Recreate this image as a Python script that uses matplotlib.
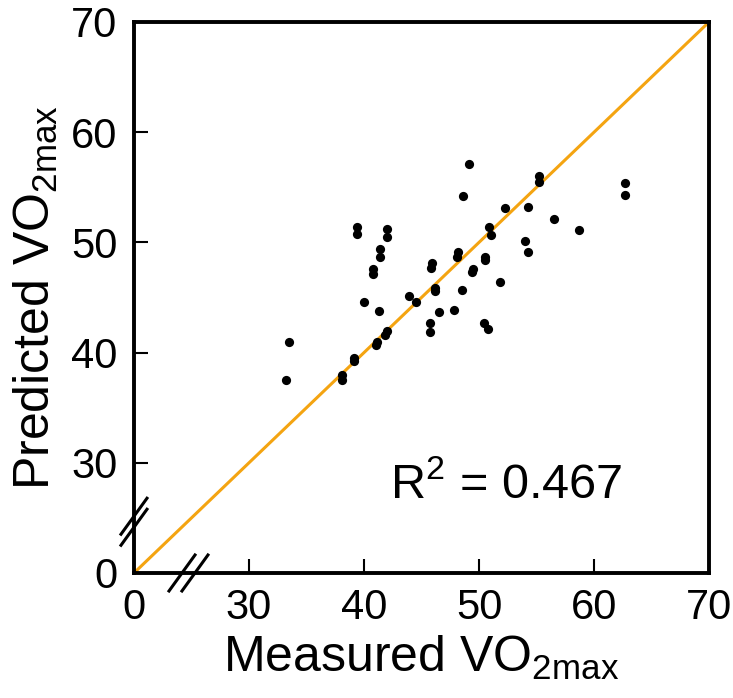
import matplotlib
matplotlib.use("Agg")
import matplotlib.pyplot as plt

plt.rcParams['font.family'] = ['Liberation Sans', 'DejaVu Sans']
plt.rcParams['mathtext.fontset'] = 'custom'
plt.rcParams['mathtext.rm'] = 'Liberation Sans'
plt.rcParams['mathtext.it'] = 'Liberation Sans'
plt.rcParams['mathtext.default'] = 'regular'

# measured vs predicted VO2max
measured = [33.2, 33.5, 38.1, 38.1, 39.1, 39.1, 39.4, 39.4, 40.0, 40.8,
            40.8, 41.0, 41.1, 41.3, 41.4, 41.4, 41.8, 42.0, 42.0, 42.0,
            43.9, 44.5, 45.7, 45.7, 45.8, 45.9, 46.2, 46.2, 46.5, 47.8,
            48.1, 48.2, 48.5, 48.6, 49.1, 49.4, 49.5, 50.5, 50.5, 50.4,
            50.8, 50.9, 51.0, 51.8, 52.3, 54.0, 54.3, 54.3, 55.2, 55.2,
            56.5, 58.7, 62.7, 62.7]
predicted = [37.5, 41.0, 37.5, 38.0, 39.2, 39.5, 50.8, 51.4, 44.6, 47.1,
             47.6, 40.7, 41.0, 43.8, 48.7, 49.4, 41.6, 42.0, 50.5, 51.2,
             45.1, 44.6, 41.9, 42.7, 47.7, 48.1, 45.6, 45.9, 43.7, 43.9,
             48.7, 49.1, 45.7, 54.2, 57.1, 47.3, 47.6, 48.4, 48.7, 42.7,
             42.1, 51.4, 50.7, 46.4, 53.1, 50.1, 49.1, 53.2, 56.0, 55.5,
             52.1, 51.1, 55.4, 54.3]

ticks = [20, 30, 40, 50, 60, 70]
tick_labels = ['0', '30', '40', '50', '60', '70']
r2_text = r'R$^2$ = 0.467'

fig = plt.figure(figsize=(7.33, 6.98), dpi=100)
ax = fig.add_axes([0.1828, 0.1791, 0.7845, 0.7894])

ax.plot([20, 70], [20, 70], color='#F4A411', lw=2.2, zorder=2)
ax.scatter(measured, predicted, s=44, color='black', linewidths=0, zorder=3)

ax.set_xlim(20, 70)
ax.set_ylim(20, 70)
ax.set_xticks(ticks)
ax.set_xticklabels(tick_labels)
ax.set_yticks(ticks)
ax.set_yticklabels(tick_labels)
ax.tick_params(direction='in', length=10, width=1.5, labelsize=30)
ax.tick_params(axis='x', pad=11)
ax.tick_params(axis='y', pad=12)
for s in ax.spines.values():
    s.set_linewidth(2.8)

ax.set_xlabel(r'Measured VO$_{2max}$', fontsize=36, labelpad=4)
ax.set_ylabel(r'Predicted VO$_{2max}$', fontsize=36, labelpad=8)

ax.text(42.3, 28.0, r2_text, fontsize=35, va='center', ha='left')

# axis break marks
dx, dy = 13 / 575, 18 / 551
for cx in [0.0835, 0.106]:
    ax.plot([cx - dx, cx + dx], [-dy, dy], color='black', lw=2.2,
            transform=ax.transAxes, clip_on=False, zorder=5)
for cy in [0.083, 0.103]:
    ax.plot([-dx, dx], [cy - dy, cy + dy], color='black', lw=2.2,
            transform=ax.transAxes, clip_on=False, zorder=5)

fig.savefig('out.png', dpi=100)
